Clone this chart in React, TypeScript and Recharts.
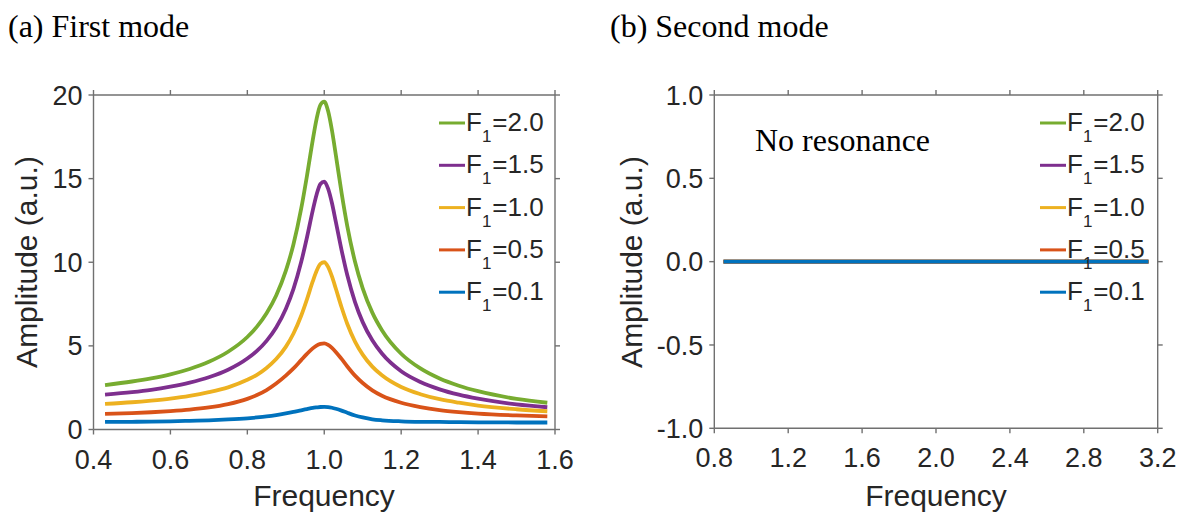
import React from 'react';
import { LineChart, Line, XAxis, YAxis, Legend } from 'recharts';

// ---------- data: (a) first mode ----------
const FREQ_FIRST = [0.43, 0.5, 0.55, 0.6, 0.65, 0.7, 0.75, 0.8, 0.825, 0.85, 0.875, 0.9, 0.92, 0.94, 0.955, 0.97, 0.98, 0.99, 1.0, 1.01, 1.02, 1.03, 1.045, 1.06, 1.08, 1.1, 1.125, 1.15, 1.2, 1.25, 1.3, 1.35, 1.4, 1.5, 1.58];
const AMP_F20 = [2.66, 2.87, 3.06, 3.3, 3.62, 4.05, 4.65, 5.53, 6.15, 6.95, 8.01, 9.48, 11.08, 13.2, 15.16, 17.29, 18.56, 19.41, 19.6, 19.04, 17.89, 16.43, 14.16, 12.15, 10.03, 8.44, 6.99, 5.94, 4.53, 3.65, 3.05, 2.62, 2.29, 1.83, 1.6];
const AMP_F15 = [2.08, 2.23, 2.37, 2.56, 2.8, 3.12, 3.57, 4.24, 4.7, 5.3, 6.1, 7.21, 8.41, 10.01, 11.48, 13.09, 14.04, 14.68, 14.82, 14.4, 13.54, 12.43, 10.73, 9.22, 7.62, 6.42, 5.33, 4.54, 3.48, 2.84, 2.4, 2.08, 1.84, 1.5, 1.33];
const AMP_F10 = [1.53, 1.63, 1.73, 1.85, 2.01, 2.23, 2.52, 2.97, 3.27, 3.68, 4.21, 4.94, 5.74, 6.8, 7.78, 8.85, 9.48, 9.9, 10.0, 9.72, 9.15, 8.43, 7.31, 6.31, 5.26, 4.48, 3.76, 3.24, 2.54, 2.11, 1.81, 1.6, 1.43, 1.21, 1.09];
const AMP_F05 = [0.93, 0.98, 1.03, 1.1, 1.19, 1.32, 1.52, 1.83, 2.06, 2.36, 2.75, 3.22, 3.65, 4.15, 4.52, 4.85, 5.02, 5.12, 5.15, 5.06, 4.88, 4.64, 4.22, 3.77, 3.22, 2.78, 2.34, 2.02, 1.6, 1.34, 1.16, 1.04, 0.95, 0.84, 0.78];
const AMP_F01 = [0.45, 0.46, 0.47, 0.49, 0.52, 0.55, 0.6, 0.67, 0.72, 0.78, 0.86, 0.96, 1.05, 1.15, 1.22, 1.29, 1.32, 1.345, 1.35, 1.34, 1.3, 1.24, 1.13, 1.0, 0.84, 0.72, 0.61, 0.55, 0.49, 0.46, 0.45, 0.44, 0.43, 0.42, 0.42];

// ---------- data: (b) second mode ----------
const FREQ_SECOND = [0.85, 3.15];
const AMP_SECOND = [0, 0];

// ---------- series / ticks ----------
const SERIES_KEYS = ['f20', 'f15', 'f10', 'f05', 'f01'];
const SERIES_LABELS = ['2.0', '1.5', '1.0', '0.5', '0.1'];
const SERIES_COLORS = ['#77AC30', '#7E2F8E', '#EDB120', '#D95319', '#0072BD'];
const FIRST_SERIES = [AMP_F20, AMP_F15, AMP_F10, AMP_F05, AMP_F01];

const X_TICKS_FIRST = [0.4, 0.6, 0.8, 1.0, 1.2, 1.4, 1.6];
const Y_TICKS_FIRST = [0, 5, 10, 15, 20];
const X_TICKS_SECOND = [0.8, 1.2, 1.6, 2.0, 2.4, 2.8, 3.2];
const Y_TICKS_SECOND = [-1, -0.5, 0, 0.5, 1];

const firstData = FREQ_FIRST.map((f, i) => {
  const row: Record<string, number> = { f };
  SERIES_KEYS.forEach((k, s) => (row[k] = FIRST_SERIES[s][i]));
  return row;
});
const secondData = FREQ_SECOND.map((f, i) => {
  const row: Record<string, number> = { f };
  SERIES_KEYS.forEach((k) => (row[k] = AMP_SECOND[i]));
  return row;
});

const SANS = '"Liberation Sans", Arial, Helvetica, sans-serif';
const SERIF = '"Liberation Serif", "Times New Roman", serif';
const AXIS_COLOR = '#707070';
const TEXT_COLOR = '#262626';

const tickStyle = { fill: TEXT_COLOR, fontSize: 27, fontFamily: SANS };
const fmt1 = (v: number) => v.toFixed(1);
const blank = () => '';

function LegendBox() {
  return (
    <svg width={130} height={220} style={{ overflow: 'visible', display: 'block' }}>
      {SERIES_KEYS.map((k, i) => {
        const y = 10 + i * 42.3;
        return (
          <g key={k}>
            <line x1={0} x2={26} y1={y} y2={y} stroke={SERIES_COLORS[i]} strokeWidth={3} />
            <text x={27} y={y + 8} fontFamily={SANS} fontSize={26} fill={TEXT_COLOR}>
              F
              <tspan dy={11} fontSize={17}>1</tspan>
              <tspan dy={-11} dx={1}>={SERIES_LABELS[i]}</tspan>
            </text>
          </g>
        );
      })}
    </svg>
  );
}

function Panel(props: {
  data: Record<string, number>[];
  width: number;
  margin: { top: number; right: number; bottom: number; left: number };
  xDomain: [number, number];
  xTicks: number[];
  yDomain: [number, number];
  yTicks: number[];
  yFmt: (v: number) => string;
  legendPos: { left: number; top: number };
}) {
  const { data, width, margin, xDomain, xTicks, yDomain, yTicks, yFmt, legendPos } = props;
  const axisLine = { stroke: AXIS_COLOR, strokeWidth: 1.4 };
  return (
    <LineChart width={width} height={512} data={data} margin={margin}>
      <XAxis
        dataKey="f"
        type="number"
        domain={xDomain}
        ticks={xTicks}
        tickFormatter={fmt1}
        allowDataOverflow
        height={40}
        tickSize={5}
        tickMargin={15}
        axisLine={axisLine}
        tickLine={axisLine}
        tick={tickStyle}
        interval={0}
      />
      <XAxis
        xAxisId="top"
        orientation="top"
        dataKey="f"
        type="number"
        domain={xDomain}
        ticks={xTicks}
        tickFormatter={blank}
        allowDataOverflow
        height={1}
        tickSize={5}
        axisLine={axisLine}
        tickLine={axisLine}
        interval={0}
      />
      <YAxis
        type="number"
        domain={yDomain}
        ticks={yTicks}
        tickFormatter={yFmt}
        allowDataOverflow
        width={60}
        tickSize={5}
        tickMargin={6}
        axisLine={axisLine}
        tickLine={axisLine}
        tick={tickStyle}
        interval={0}
      />
      <YAxis
        yAxisId="right"
        orientation="right"
        type="number"
        domain={yDomain}
        ticks={yTicks}
        tickFormatter={blank}
        allowDataOverflow
        width={1}
        tickSize={5}
        axisLine={axisLine}
        tickLine={axisLine}
        interval={0}
      />
      {SERIES_KEYS.map((k, i) => (
        <Line
          key={k}
          dataKey={k}
          type="monotone"
          stroke={SERIES_COLORS[i]}
          strokeWidth={3.8}
          dot={false}
          activeDot={false}
          isAnimationActive={false}
        />
      ))}
      <Legend
        layout="horizontal"
        verticalAlign="middle"
        align="center"
        content={() => <LegendBox />}
        wrapperStyle={{ left: legendPos.left, top: legendPos.top, width: 130, height: 220 }}
      />
    </LineChart>
  );
}

export default function App() {
  return (
    <div style={{ position: 'absolute', left: 0, top: 0, width: 1186, height: 512, background: '#fff', overflow: 'hidden' }}>
      <div style={{ position: 'absolute', left: 0, top: 0 }}>
        <Panel
          data={firstData}
          width={600}
          margin={{ top: 94, right: 44, bottom: 42.5, left: 33.5 }}
          xDomain={[0.4, 1.6]}
          xTicks={X_TICKS_FIRST}
          yDomain={[0, 20]}
          yTicks={Y_TICKS_FIRST}
          yFmt={(v: number) => String(v)}
          legendPos={{ left: 439.3, top: 113.3 }}
        />
      </div>
      <div style={{ position: 'absolute', left: 600, top: 0 }}>
        <Panel
          data={secondData}
          width={586}
          margin={{ top: 94, right: 27.3, bottom: 43.7, left: 54.3 }}
          xDomain={[0.8, 3.2]}
          xTicks={X_TICKS_SECOND}
          yDomain={[-1, 1]}
          yTicks={Y_TICKS_SECOND}
          yFmt={fmt1}
          legendPos={{ left: 439.6, top: 113.3 }}
        />
      </div>
      <svg width={1186} height={512} style={{ position: 'absolute', left: 0, top: 0, pointerEvents: 'none' }}>
        <text x={8} y={37} fontFamily={SERIF} fontSize={32} fill="#000">(a) First mode</text>
        <text x={610} y={37} fontFamily={SERIF} fontSize={32} fill="#000">(b) Second mode</text>
        <text x={755} y={151} fontFamily={SERIF} fontSize={32} fill="#000">No resonance</text>
        <text x={324} y={506} textAnchor="middle" fontFamily={SANS} fontSize={30} fill={TEXT_COLOR}>Frequency</text>
        <text x={936} y={506} textAnchor="middle" fontFamily={SANS} fontSize={30} fill={TEXT_COLOR}>Frequency</text>
        <text transform="translate(37,262) rotate(-90)" textAnchor="middle" fontFamily={SANS} fontSize={30} fill={TEXT_COLOR}>Amplitude (a.u.)</text>
        <text transform="translate(642,262) rotate(-90)" textAnchor="middle" fontFamily={SANS} fontSize={30} fill={TEXT_COLOR}>Amplitude (a.u.)</text>
      </svg>
    </div>
  );
}
